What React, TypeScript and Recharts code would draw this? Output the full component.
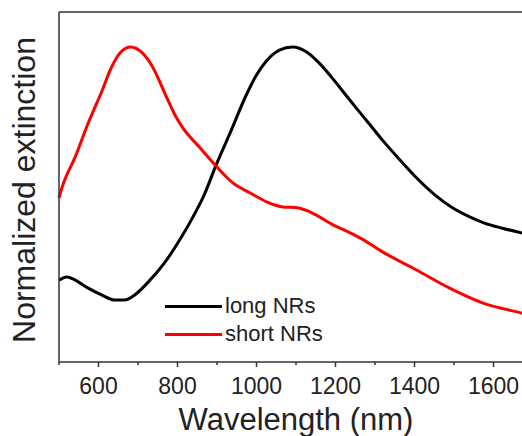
import { LineChart, Line, XAxis, YAxis, ReferenceLine, Legend } from 'recharts'

const longWl = [500, 520, 541, 574, 609, 641, 666, 691, 724, 767, 810, 839, 865, 900, 933, 975, 1000, 1025, 1058, 1091, 1127, 1159, 1192, 1228, 1261, 1280, 1321, 1365, 1400, 1453, 1494, 1537, 1577, 1620, 1671, 1700]
const longVal = [0.234, 0.243, 0.234, 0.211, 0.191, 0.177, 0.177, 0.191, 0.226, 0.283, 0.357, 0.414, 0.471, 0.569, 0.654, 0.765, 0.82, 0.86, 0.891, 0.9, 0.886, 0.854, 0.811, 0.76, 0.714, 0.688, 0.631, 0.575, 0.532, 0.476, 0.442, 0.416, 0.397, 0.383, 0.369, 0.362]

const shortWl = [500, 508, 541, 574, 609, 632, 656, 681, 711, 737, 773, 794, 814, 857, 900, 941, 984, 1027, 1067, 1103, 1135, 1195, 1237, 1263, 1320, 1405, 1489, 1572, 1671, 1700]
const shortVal = [0.469, 0.5, 0.586, 0.683, 0.775, 0.84, 0.885, 0.9, 0.883, 0.843, 0.755, 0.705, 0.668, 0.612, 0.557, 0.511, 0.483, 0.457, 0.443, 0.441, 0.429, 0.391, 0.369, 0.354, 0.314, 0.263, 0.211, 0.169, 0.14, 0.132]

const xTicks = [500, 600, 700, 800, 900, 1000, 1100, 1200, 1300, 1400, 1500, 1600, 1700]
const labeledTicks = [600, 800, 1000, 1200, 1400, 1600]

const longData = longWl.map((x, i) => ({ x, y: longVal[i] }))
const shortData = shortWl.map((x, i) => ({ x, y: shortVal[i] }))

const FONT = '"Liberation Sans", Arial, sans-serif'
const AXIS = '#333'

function WaveTick(props: any) {
  const { x, y, payload } = props
  const major = labeledTicks.includes(payload.value)
  const base = y - 16
  return (
    <g>
      <line x1={x} x2={x} y1={base} y2={base + (major ? 5 : 3)} stroke={AXIS} strokeWidth={1.5} />
      {major && (
        <text x={x} y={y} dy="0.71em" textAnchor="middle" fontSize={23} fill="#222" fontFamily={FONT}>
          {payload.value}
        </text>
      )}
    </g>
  )
}

function LegendBox({ payload }: any) {
  return (
    <div style={{ fontFamily: FONT, fontSize: 22, color: '#222' }}>
      {(payload || []).map((p: any) => (
        <div key={p.value} style={{ display: 'flex', alignItems: 'center', height: 28 }}>
          <span style={{ display: 'inline-block', width: 57, height: 3, background: p.color, marginRight: 3 }} />
          <span>{p.value}</span>
        </div>
      ))}
    </div>
  )
}

export default function App() {
  return (
    <div style={{ position: 'absolute', left: 0, top: 0, width: 522, height: 436, overflow: 'hidden', background: '#fff' }}>
      <LineChart width={560} height={436} margin={{ top: 12, right: 27, bottom: 0, left: 0 }}>
        <XAxis
          dataKey="x"
          type="number"
          domain={[500, 1700]}
          ticks={xTicks}
          interval={0}
          allowDuplicatedCategory={false}
          height={74}
          tickSize={5}
          tickMargin={11}
          tickLine={false}
          axisLine={{ stroke: AXIS, strokeWidth: 1.5 }}
          tick={<WaveTick />}
          label={{ value: 'Wavelength (nm)', position: 'insideBottom', offset: 6, fontSize: 31, fill: '#222', fontFamily: FONT }}
        />
        <YAxis
          type="number"
          domain={[0, 1]}
          width={59}
          tick={false}
          tickLine={false}
          axisLine={{ stroke: AXIS, strokeWidth: 1.5 }}
          label={{
            content: () => (
              <text x={24} y={190} transform="rotate(-90 24 190)" textAnchor="middle" dominantBaseline="central" fontSize={32} fill="#222" fontFamily={FONT}>
                Normalized extinction
              </text>
            ),
          }}
        />
        <ReferenceLine y={1} stroke={AXIS} strokeWidth={1.5} />
        <Legend
          layout="horizontal"
          verticalAlign="middle"
          align="center"
          content={<LegendBox />}
          wrapperStyle={{ left: 165, top: 292, width: 200 }}
        />
        <Line data={longData} dataKey="y" name="long NRs" type="monotone" stroke="#000" strokeWidth={3} dot={false} isAnimationActive={false} />
        <Line data={shortData} dataKey="y" name="short NRs" type="monotone" stroke="#ff0000" strokeWidth={3} dot={false} isAnimationActive={false} />
      </LineChart>
    </div>
  )
}
